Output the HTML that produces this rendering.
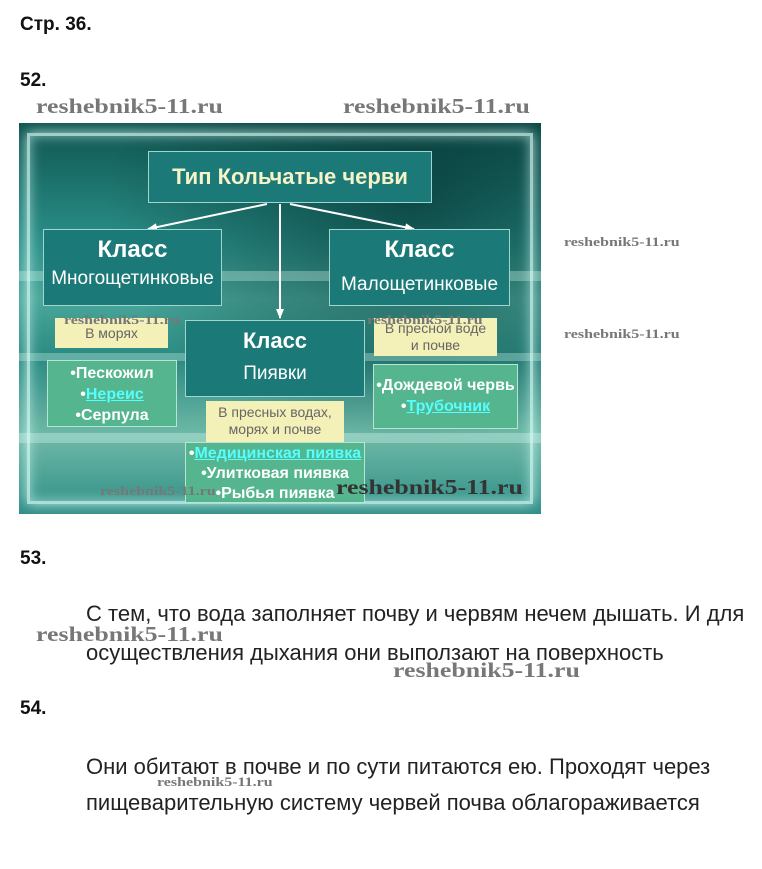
<!DOCTYPE html>
<html><head><meta charset="utf-8"><style>
body{margin:0;width:762px;height:869px;background:#fff;position:relative;overflow:hidden;font-family:"Liberation Sans",Arial,sans-serif}
.a{position:absolute;white-space:nowrap}
.wm{position:absolute;font-family:"Liberation Serif",serif;font-weight:bold;color:#777;white-space:nowrap;transform-origin:0 0;transform:scaleX(1.23)}
.h{font-weight:bold;font-size:19px;color:#111}
.t{font-size:22px;color:#222;transform-origin:0 50%;transform:scaleX(1.0)}
.box{position:absolute;background:#1b7a78;border:1px solid #9fd6cf;color:#fff;text-align:center;box-sizing:border-box}
.y{position:absolute;background:#f3f0b8;color:#666;text-align:center;font-size:14px;line-height:17px;box-sizing:border-box}
.g{position:absolute;background:#54b58e;border:1px solid #b6e6cf;color:#fff;text-align:center;font-size:16px;font-weight:bold;box-sizing:border-box}
.lk{color:#5ff;text-decoration:underline}
</style></head><body>
<div class="a h" style="left:20px;top:14px">Стр. 36.</div>
<div class="a h" style="left:20px;top:70px">52.</div>
<div class="wm" style="left:36px;top:94px;font-size:21px">reshebnik5-11.ru</div>
<div class="wm" style="left:343px;top:94px;font-size:21px">reshebnik5-11.ru</div>

<div style="position:absolute;left:19px;top:123px;width:522px;height:391px;overflow:hidden;background:linear-gradient(180deg,#0f5550 0%,#2a8f88 30%,#4aa79a 45%,#2a8a82 60%,#6fb9a7 80%,#2e8e86 100%)">
  <div style="position:absolute;left:0;top:0;right:0;bottom:0;background:radial-gradient(ellipse at 75% 20%,rgba(0,40,40,.6),rgba(0,0,0,0) 55%)"></div>
  <div style="position:absolute;left:0;top:148px;width:522px;height:10px;background:rgba(200,240,230,.35)"></div>
  <div style="position:absolute;left:0;top:230px;width:522px;height:8px;background:rgba(200,240,230,.35)"></div>
  <div style="position:absolute;left:0;top:310px;width:522px;height:10px;background:rgba(200,240,230,.4)"></div>
  <div style="position:absolute;left:8px;top:10px;width:500px;height:365px;border:3px solid rgba(220,255,250,.7);box-shadow:0 0 12px rgba(220,255,250,.8),inset 0 0 12px rgba(220,255,250,.6)"></div>
</div>

<svg style="position:absolute;left:0;top:0" width="762" height="869">
<defs><marker id="m" markerUnits="userSpaceOnUse" markerWidth="10" markerHeight="8" refX="9" refY="4" orient="auto"><path d="M0,0 L10,4 L0,8z" fill="#fff"/></marker></defs>
<g stroke="#fff" stroke-width="2" fill="none">
<line x1="267" y1="204" x2="148" y2="229" marker-end="url(#m)"/>
<line x1="280" y1="204" x2="280" y2="318" marker-end="url(#m)"/>
<line x1="290" y1="204" x2="414" y2="229" marker-end="url(#m)"/>
</g></svg>

<div class="box" style="left:148px;top:151px;width:284px;height:52px;font-size:22px;font-weight:bold;line-height:50px;color:#f6f3c8">Тип Кольчатые черви</div>
<div class="box" style="left:43px;top:229px;width:179px;height:77px;font-size:19px"><div style="font-size:24px;font-weight:bold;margin-top:6px">Класс</div><div style="margin-top:4px">Многощетинковые</div></div>
<div class="box" style="left:329px;top:229px;width:181px;height:77px;font-size:19px"><div style="font-size:24px;font-weight:bold;margin-top:6px">Класс</div><div style="margin-top:10px">Малощетинковые</div></div>
<div class="box" style="left:185px;top:320px;width:180px;height:77px;font-size:19px"><div style="font-size:22px;font-weight:bold;margin-top:7px">Класс</div><div style="margin-top:9px">Пиявки</div></div>
<div class="y" style="left:55px;top:318px;width:113px;height:30px;line-height:30px">В морях</div>
<div class="y" style="left:374px;top:318px;width:123px;height:38px;padding-top:2px">В пресной воде<br>и почве</div>
<div class="y" style="left:206px;top:401px;width:138px;height:41px;padding-top:3px">В пресных водах,<br>морях и почве</div>
<div class="g" style="left:47px;top:360px;width:130px;height:67px;line-height:21px;padding-top:2px">•Пескожил<br>•<span class="lk">Нереис</span><br>•Серпула</div>
<div class="g" style="left:373px;top:364px;width:145px;height:65px;line-height:21px;padding-top:10px">•Дождевой червь<br>•<span class="lk">Трубочник </span></div>
<div class="g" style="left:185px;top:442px;width:180px;height:61px;line-height:20px;padding-top:1px">•<span class="lk">Медицинская пиявка</span><br>•Улитковая пиявка<br>•Рыбья пиявка</div>

<div class="wm" style="left:64px;top:312px;font-size:13px">reshebnik5-11.ru</div>
<div class="wm" style="left:367px;top:312px;font-size:13px">reshebnik5-11.ru</div>
<div class="wm" style="left:100px;top:483px;font-size:13px">reshebnik5-11.ru</div>
<div class="wm" style="left:336px;top:475px;font-size:21px;color:#333">reshebnik5-11.ru</div>
<div class="wm" style="left:564px;top:234px;font-size:13px">reshebnik5-11.ru</div>
<div class="wm" style="left:564px;top:326px;font-size:13px">reshebnik5-11.ru</div>

<div class="a h" style="left:20px;top:548px">53.</div>
<div class="a t" style="left:86px;top:601px">С тем, что вода заполняет почву и червям нечем дышать. И для</div>
<div class="wm" style="left:36px;top:622px;font-size:21px">reshebnik5-11.ru</div>
<div class="a t" style="left:86px;top:640px">осуществления дыхания они выползают на поверхность</div>
<div class="wm" style="left:393px;top:658px;font-size:21px">reshebnik5-11.ru</div>
<div class="a h" style="left:20px;top:698px">54.</div>
<div class="a t" style="left:86px;top:754px">Они обитают в почве и по сути питаются ею. Проходят через</div>
<div class="wm" style="left:157px;top:774px;font-size:13px">reshebnik5-11.ru</div>
<div class="a t" style="left:86px;top:790px">пищеварительную систему червей почва облагораживается</div>
</body></html>
